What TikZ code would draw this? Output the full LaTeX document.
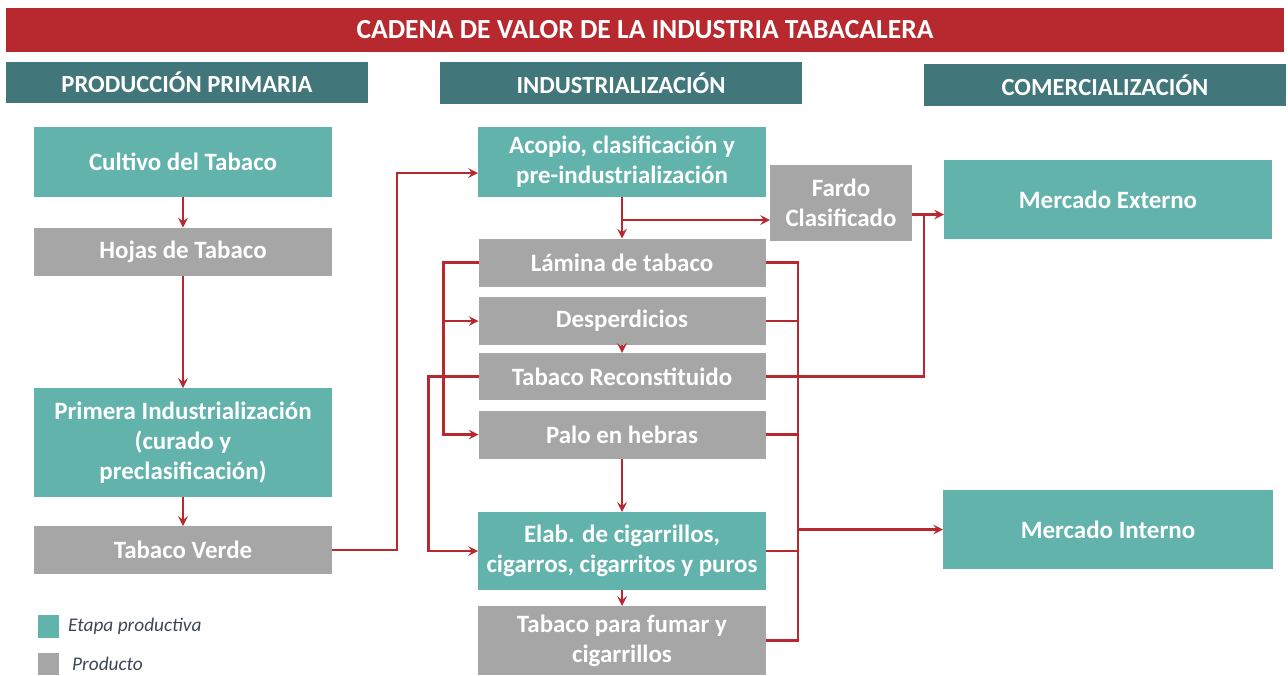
\documentclass[tikz,border=0pt]{standalone}
\usepackage{fontspec}
\setmainfont{Carlito}
\usepackage{tikz}
\usetikzlibrary{shapes.geometric, arrows, positioning, calc}

\definecolor{rojo}{HTML}{B7292F}
\definecolor{cabecera}{HTML}{41767A}
\definecolor{etapa}{HTML}{63B3AD}
\definecolor{producto}{HTML}{A6A6A6}
\definecolor{leyenda}{HTML}{3E4656}

\tikzstyle{titulo} = [rectangle, minimum width=25.56cm, minimum height=0.88cm, text centered, fill=rojo, text=white, font=\fontsize{15.7}{18}\selectfont\bfseries, outer sep=0pt]
\tikzstyle{header} = [rectangle, minimum width=7.24cm, minimum height=0.83cm, text centered, fill=cabecera, text=white, font=\fontsize{14}{16}\selectfont\bfseries, outer sep=0pt]
\tikzstyle{etapa} = [rectangle, minimum width=5.96cm, minimum height=1.4cm, align=center, fill=etapa, text=white, font=\fontsize{14.2}{17}\selectfont\bfseries, outer sep=0pt]
\tikzstyle{producto} = [rectangle, minimum width=5.96cm, minimum height=0.96cm, align=center, fill=producto, text=white, font=\fontsize{14.2}{17}\selectfont\bfseries, outer sep=0pt]
\tikzstyle{cuadro} = [rectangle, minimum width=0.42cm, minimum height=0.45cm, inner sep=0pt]
\tikzstyle{nota} = [anchor=west, text=leyenda, font=\fontsize{11}{13}\selectfont\itshape]
\tikzstyle{arrow} = [line width=1.4pt, draw=rojo, ->, >=stealth]
\tikzstyle{line} = [line width=1.4pt, draw=rojo]

\begin{document}
\begin{tikzpicture}[node distance=2cm]
\useasboundingbox (0,0) rectangle (25.76,-13.5);

%% HEADERS

\node (titulo) [titulo] at (12.9,-0.6) {CADENA DE VALOR DE LA INDUSTRIA TABACALERA};
\node (hdprim) [header] at (3.74,-1.65) {PRODUCCIÓN PRIMARIA};
\node (hdind) [header] at (12.42,-1.66) {INDUSTRIALIZACIÓN};
\node (hdcom) [header] at (22.1,-1.7) {COMERCIALIZACIÓN};

%% NODES

\node (cultivo) [etapa] at (3.66,-3.24) {Cultivo del Tabaco};
\node (hojas) [producto, below of=cultivo, node distance=1.79cm] {Hojas de Tabaco};
\node (primera) [etapa, minimum height=2.18cm, below of=hojas, node distance=3.82cm] {Primera Industrialización\\(curado y\\preclasificación)};
\node (verde) [producto, below of=primera, node distance=2.15cm] {Tabaco Verde};

\node (acopio) [etapa, minimum width=5.76cm] at (12.44,-3.24) {Acopio, clasificación y\\pre-industrialización};
\node (lamina) [producto, minimum width=5.74cm, below of=acopio, node distance=2.01cm] {Lámina de tabaco};
\node (desp) [producto, minimum width=5.74cm, below of=lamina, node distance=1.17cm] {Desperdicios};
\node (reconst) [producto, minimum width=5.74cm, minimum height=0.94cm, below of=desp, node distance=1.11cm] {Tabaco Reconstituido};
\node (palo) [producto, minimum width=5.74cm, below of=reconst, node distance=1.16cm] {Palo en hebras};
\node (elab) [etapa, minimum width=5.76cm, minimum height=1.56cm, below of=palo, node distance=2.33cm] {Elab. de cigarrillos,\\cigarros, cigarritos y puros};
\node (fumar) [producto, minimum width=5.76cm, minimum height=1.38cm, below of=elab, node distance=1.79cm] {Tabaco para fumar y\\cigarrillos};

\node (fardo) [producto, minimum width=2.84cm, minimum height=1.52cm] at (16.82,-4.06) {Fardo\\Clasificado};
\node (externo) [etapa, minimum width=6.56cm, minimum height=1.58cm] at (22.16,-3.99) {Mercado Externo};
\node (interno) [etapa, minimum width=6.6cm, minimum height=1.58cm, below of=externo, node distance=6.6cm] {Mercado Interno};

%% LEGEND

\node (cetapa) [cuadro, fill=etapa] at (0.97,-12.53) {};
\node (letapa) [nota] at (1.24,-12.53) {Etapa productiva};
\node (cprod) [cuadro, fill=producto] at (0.97,-13.28) {};
\node (lprod) [nota] at (1.32,-13.28) {Producto};

%% ARROWS

\coordinate (acsplit) at ([yshift=-0.46cm]acopio.south);
\coordinate (exin) at ([yshift=-0.3cm]externo.west);
\coordinate (bus) at ([xshift=0.65cm]lamina.east);

\draw [arrow] (cultivo) -- (hojas);
\draw [arrow] (hojas) -- (primera);
\draw [arrow] (primera) -- (verde);
\draw [arrow] (verde.east) -- ++(1.3,0) |- ([yshift=-0.22cm]acopio.west);
\draw [arrow] (acopio) -- (lamina);
\draw [arrow] (acsplit) -- (acsplit -| fardo.west);
\draw [arrow] (exin -| fardo.east) -- (exin);
\draw [line] (reconst.east) -| ($(exin -| fardo.east)+(0.24,0)$);
\draw [arrow] (lamina.west) -- ++(-0.7,0) |- (palo.west);
\draw [arrow] (lamina.west) ++(-0.7,0) |- (desp.west);
\draw [arrow] (desp) -- (reconst);
\draw [arrow] (reconst.west) -- ++(-1.0,0) |- (elab.west);
\draw [arrow] (palo) -- (elab);
\draw [arrow] (elab) -- (fumar);
\draw [line] (lamina.east) -- (bus) |- (fumar.east);
\draw [line] (desp.east) -- (bus |- desp.east);
\draw [line] (palo.east) -- (bus |- palo.east);
\draw [line] (elab.east) -- (bus |- elab.east);
\draw [arrow] (bus |- interno.west) -- (interno.west);
\end{tikzpicture}
\end{document}
